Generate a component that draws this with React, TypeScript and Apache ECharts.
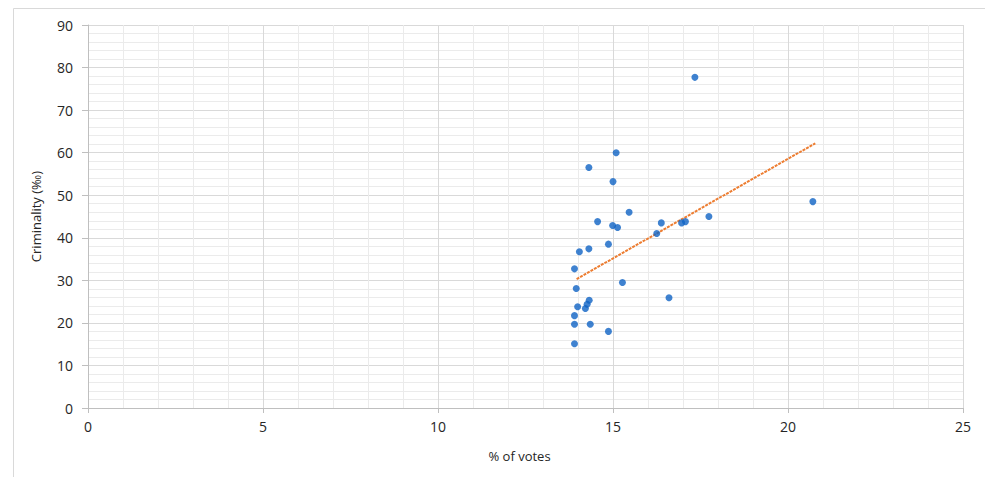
import React, { useEffect, useRef } from "react";
import * as echarts from "echarts";

const votes: number[] = [17.34, 15.09, 14.31, 15.0, 20.71, 15.46, 14.56, 17.74, 16.38, 16.96, 17.07, 14.99, 15.13, 16.25, 14.87, 14.31, 14.04, 13.9, 13.95, 15.27, 16.6, 14.32, 14.26, 14.21, 13.99, 13.9, 13.9, 14.35, 14.87, 13.9];
const criminality: number[] = [77.7, 60.0, 56.5, 53.2, 48.5, 46.0, 43.8, 45.0, 43.5, 43.5, 43.8, 42.9, 42.4, 41.0, 38.5, 37.4, 36.7, 32.7, 28.1, 29.5, 25.9, 25.3, 24.4, 23.4, 23.8, 21.7, 19.7, 19.7, 18.0, 15.1];
const trendX: number[] = [13.96, 20.78];
const trendY: number[] = [30.3, 62.2];

export default function App() {
  const ref = useRef<HTMLDivElement>(null);
  useEffect(() => {
    if (!ref.current) return;
    const chart = echarts.init(ref.current, undefined, { renderer: "svg" });
    const font = "Open Sans";
    chart.setOption({
      animation: false,
      backgroundColor: "#ffffff",
      graphic: [
        {
          type: "rect",
          shape: { x: 13.5, y: 8.5, width: 1000, height: 500 },
          style: { fill: "none", stroke: "#d9d9d9", lineWidth: 1 },
          silent: true,
        },
      ],
      grid: { left: 88, right: 22, top: 25, bottom: 69, containLabel: false },
      xAxis: {
        type: "value",
        min: 0,
        max: 25,
        interval: 5,
        name: "% of votes",
        nameLocation: "middle",
        nameGap: 41,
        nameTextStyle: { color: "#262626", fontSize: 13, fontFamily: font, padding: [0, 12, 0, 0] },
        axisLine: { show: true, onZero: false, lineStyle: { color: "#bfbfbf", width: 1 } },
        axisTick: { show: true, length: 5, lineStyle: { color: "#bfbfbf" } },
        axisLabel: { color: "#262626", fontSize: 14, fontFamily: font, margin: 11 },
        splitLine: { show: true, lineStyle: { color: "#d9d9d9", width: 1 } },
        minorTick: { show: false, splitNumber: 5 },
        minorSplitLine: { show: true, lineStyle: { color: "#ebebeb", width: 1 } },
      },
      yAxis: {
        type: "value",
        min: 0,
        max: 90,
        interval: 10,
        name: "Criminality (‰)",
        nameLocation: "middle",
        nameGap: 46,
        nameTextStyle: { color: "#262626", fontSize: 13, fontFamily: font },
        axisLine: { show: true, lineStyle: { color: "#bfbfbf", width: 1 } },
        axisTick: { show: true, length: 6, lineStyle: { color: "#bfbfbf" } },
        axisLabel: { color: "#262626", fontSize: 14, fontFamily: font, margin: 15 },
        splitLine: { show: true, lineStyle: { color: "#d9d9d9", width: 1 } },
        minorTick: { show: false, splitNumber: 5 },
        minorSplitLine: { show: true, lineStyle: { color: "#ebebeb", width: 1 } },
      },
      series: [
        {
          type: "line",
          data: trendX.map((x, i) => [x, trendY[i]]),
          symbol: "none",
          lineStyle: { color: "#ED7D31", width: 2, type: [3, 1] },
          silent: true,
          z: 1,
        },
        {
          type: "scatter",
          data: votes.map((x, i) => [x, criminality[i]]),
          symbol: "circle",
          symbolSize: 7,
          itemStyle: { color: "#0f63c4" },
          z: 2,
        },
      ],
    });
    return () => chart.dispose();
  }, []);
  return (
    <div
      ref={ref}
      style={{ position: "fixed", left: 0, top: 0, width: 985, height: 477 }}
    />
  );
}
